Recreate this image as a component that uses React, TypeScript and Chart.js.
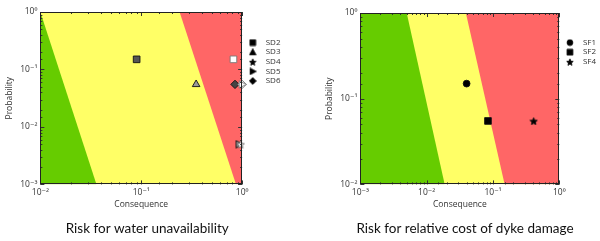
import React, { useEffect, useRef } from 'react';
import { Chart, registerables } from 'chart.js';

Chart.register(...registerables);

// ---------- Left chart: risk for water unavailability ----------
const leftTitle = 'Risk for water unavailability';
const leftSeries = ['SD2', 'SD3', 'SD4', 'SD5', 'SD6'];
const leftShapes = ['rect', 'triangle', 'star', 'rightTriangle', 'rectRot'];
const sd2Consequence = [0.09, 0.82];
const sd2Probability = [0.15, 0.15];
const sd2Fill = ['#555555', '#ffffff'];
const sd3Consequence = [0.35];
const sd3Probability = [0.055];
const sd3Fill = ['#9a9a9a'];
const sd4Consequence = [0.97];
const sd4Probability = [0.005];
const sd4Fill = ['#ffffff'];
const sd5Consequence = [0.93, 1.0];
const sd5Probability = [0.005, 0.055];
const sd5Fill = ['#8a8a8a', '#ffffff'];
const sd6Consequence = [0.85, 1.0];
const sd6Probability = [0.055, 0.055];
const sd6Fill = ['#444444', '#ffffff'];
const leftXRange = [0.01, 1];
const leftYRange = [0.001, 1];
const leftGreenConsequence = [0.01, 0.036];
const leftGreenProbability = [1, 0.001];
const leftRedConsequence = [0.24, 0.87, 1];
const leftRedProbability = [1, 0.001, 0.001];

// ---------- Right chart: risk for relative cost of dyke damage ----------
const rightTitle = 'Risk for relative cost of dyke damage';
const rightSeries = ['SF1', 'SF2', 'SF4'];
const rightShapes = ['circle', 'rect', 'star'];
const sf1Consequence = [0.04];
const sf1Probability = [0.15];
const sf2Consequence = [0.084];
const sf2Probability = [0.055];
const sf4Consequence = [0.41];
const sf4Probability = [0.055];
const rightXRange = [0.001, 1];
const rightYRange = [0.01, 1];
const rightGreenConsequence = [0.001, 0.005, 0.0187];
const rightGreenProbability = [1, 1, 0.01];
const rightRedConsequence = [0.039, 0.15, 1];
const rightRedProbability = [1, 0.01, 0.01];

const axisXTitle = 'Consequence';
const axisYTitle = 'Probability';

const YELLOW = '#ffff66';
const GREEN = '#66cc00';
const RED = '#ff6666';
const TEXT = '#333333';
const FONT = "'Open Sans', 'DejaVu Sans', sans-serif";

const SHAPE_RADIUS: Record<string, number> = { circle: 3.4, rect: 4.7, triangle: 4.4, rectRot: 4.2 };

const SUP: Record<string, string> = { '0': '\u2070', '1': '\u00b9', '2': '\u00b2', '3': '\u00b3', '-': '\u207b' };

function powLabel(v: number): string {
  const e = Math.log10(v);
  const r = Math.round(e);
  if (Math.abs(e - r) > 1e-6) return '';
  return '10' + String(r).split('').map((c) => SUP[c] || c).join('');
}

function makeMarker(shape: string, fill: string, stroke: string, size: number): HTMLCanvasElement {
  const c = document.createElement('canvas');
  c.width = size;
  c.height = size;
  const ctx = c.getContext('2d') as CanvasRenderingContext2D;
  const cx = size / 2;
  const cy = size / 2;
  const R = size / 2 - 0.6;
  ctx.beginPath();
  if (shape === 'star') {
    const r = R * 0.45;
    for (let i = 0; i < 10; i++) {
      const a = -Math.PI / 2 + (i * Math.PI) / 5;
      const rad = i % 2 ? r : R;
      ctx.lineTo(cx + rad * Math.cos(a), cy + 0.6 + rad * Math.sin(a));
    }
  } else if (shape === 'rect') {
    const s = R * 0.85;
    ctx.rect(cx - s, cy - s, 2 * s, 2 * s);
  } else if (shape === 'triangle') {
    ctx.moveTo(cx, cy - R);
    ctx.lineTo(cx + R * 0.95, cy + R * 0.75);
    ctx.lineTo(cx - R * 0.95, cy + R * 0.75);
  } else if (shape === 'rightTriangle') {
    ctx.moveTo(cx + R, cy);
    ctx.lineTo(cx - R * 0.75, cy - R * 0.95);
    ctx.lineTo(cx - R * 0.75, cy + R * 0.95);
  } else if (shape === 'rectRot') {
    ctx.moveTo(cx, cy - R);
    ctx.lineTo(cx + R, cy);
    ctx.lineTo(cx, cy + R);
    ctx.lineTo(cx - R, cy);
  } else {
    ctx.arc(cx, cy, R * 0.85, 0, Math.PI * 2);
  }
  ctx.closePath();
  ctx.fillStyle = fill;
  ctx.fill();
  ctx.strokeStyle = stroke;
  ctx.lineWidth = 0.9;
  ctx.stroke();
  return c;
}

const frameTicks = {
  id: 'frameTicks',
  beforeDatasetsDraw(chart: any) {
    const { ctx, chartArea } = chart;
    const { left, right, top, bottom } = chartArea;
    const xs = chart.scales.x;
    const ys = chart.scales.y;
    ctx.save();
    ctx.strokeStyle = '#333333';
    ctx.lineWidth = 1;
    const isMajor = (v: number) => Math.abs(Math.log10(v) - Math.round(Math.log10(v))) < 1e-6;
    // fills are drawn per dataset; ticks/frame are drawn afterwards in afterDatasetsDraw
    ctx.restore();
  },
  afterDatasetsDraw(chart: any) {
    const { ctx, chartArea } = chart;
    const { left, right, top, bottom } = chartArea;
    const xs = chart.scales.x;
    const ys = chart.scales.y;
    ctx.save();
    ctx.strokeStyle = '#333333';
    ctx.lineWidth = 1;
    const isMajor = (v: number) => Math.abs(Math.log10(v) - Math.round(Math.log10(v))) < 1e-6;
    ctx.beginPath();
    xs.ticks.forEach((t: any) => {
      const px = Math.round(xs.getPixelForValue(t.value)) + 0.5;
      const len = isMajor(t.value) ? 4 : 2;
      ctx.moveTo(px, bottom);
      ctx.lineTo(px, bottom - len);
      ctx.moveTo(px, top);
      ctx.lineTo(px, top + len);
    });
    ys.ticks.forEach((t: any) => {
      const py = Math.round(ys.getPixelForValue(t.value)) + 0.5;
      const len = isMajor(t.value) ? 4 : 2;
      ctx.moveTo(left, py);
      ctx.lineTo(left + len, py);
      ctx.moveTo(right, py);
      ctx.lineTo(right - len, py);
    });
    ctx.stroke();
    ctx.strokeStyle = '#222222';
    ctx.strokeRect(Math.round(left) + 0.5, Math.round(top) + 0.5, Math.round(right - left) - 1, Math.round(bottom - top) - 1);
    ctx.restore();
  },
};

type PointSeries = { label: string; shape: string; xs: number[]; ys: number[]; fills: string[] };

function zip(xs: number[], ys: number[]) {
  return xs.map((x, i) => ({ x, y: ys[i] }));
}

function buildConfig(p: {
  title: string;
  series: PointSeries[];
  xRange: number[];
  yRange: number[];
  green: { xs: number[]; ys: number[] };
  red: { xs: number[]; ys: number[] };
  padding: { left: number; right: number; top: number; bottom: number };
  legendOffset: number;
}) {
  const pointDatasets = p.series.map((s) => {
    const edge = s.fills.map((f) => (f === '#ffffff' ? '#777777' : '#111111'));
    const styles = s.fills.map((f, i) => {
      if (s.shape === 'star' || s.shape === 'rightTriangle') {
        return makeMarker(s.shape, f, edge[i], 9);
      }
      return s.shape;
    });
    const r = SHAPE_RADIUS[s.shape] || 4;
    return {
      type: 'scatter',
      label: s.label,
      data: zip(s.xs, s.ys),
      pointStyle: styles,
      backgroundColor: s.fills,
      borderColor: edge,
      borderWidth: 0.9,
      pointRadius: r,
      pointHoverRadius: r,
      clip: false,
    };
  });
  const legendMarkers = p.series.map((s) => makeMarker(s.shape, '#000000', '#000000', 8));
  const datasets: any[] = [
    ...pointDatasets,
    {
      type: 'line',
      label: '',
      data: zip(p.red.xs, p.red.ys),
      borderWidth: 0,
      pointRadius: 0,
      fill: 'end',
      backgroundColor: RED,
      borderColor: 'rgba(0,0,0,0)',
    },
    {
      type: 'line',
      label: '',
      data: zip(p.green.xs, p.green.ys),
      borderWidth: 0,
      pointRadius: 0,
      fill: 'start',
      backgroundColor: GREEN,
      borderColor: 'rgba(0,0,0,0)',
    },
    {
      type: 'line',
      label: '',
      data: zip(p.xRange, [p.yRange[1], p.yRange[1]]),
      borderWidth: 0,
      pointRadius: 0,
      fill: 'start',
      backgroundColor: YELLOW,
      borderColor: 'rgba(0,0,0,0)',
    },
  ];
  return {
    type: 'scatter',
    data: { datasets },
    options: {
      responsive: false,
      animation: false,
      devicePixelRatio: 1,
      layout: { padding: p.padding },
      scales: {
        x: {
          type: 'logarithmic',
          min: p.xRange[0],
          max: p.xRange[1],
          grid: { display: false, drawTicks: false },
          border: { display: false },
          ticks: {
            autoSkip: false,
            maxRotation: 0,
            padding: 3,
            color: TEXT,
            font: { family: FONT, size: 8.5 },
            callback: (v: any) => powLabel(Number(v)),
          },
          title: { display: true, text: axisXTitle, color: TEXT, font: { family: FONT, size: 8.5 }, padding: { top: -1, bottom: 0 } },
        },
        y: {
          type: 'logarithmic',
          min: p.yRange[0],
          max: p.yRange[1],
          grid: { display: false, drawTicks: false },
          border: { display: false },
          ticks: {
            autoSkip: false,
            padding: 3,
            color: TEXT,
            font: { family: FONT, size: 8.5 },
            callback: (v: any) => powLabel(Number(v)),
          },
          title: { display: true, text: axisYTitle, color: TEXT, font: { family: FONT, size: 8.5 }, padding: { top: 0, bottom: 3 } },
        },
      },
      plugins: {
        tooltip: { enabled: false },
        title: {
          display: true,
          position: 'bottom',
          text: p.title,
          color: '#111111',
          font: { family: "Lato, 'Open Sans', sans-serif", size: 13.5, weight: 'normal' },
          padding: { top: 11, bottom: 2 },
        },
        legend: {
          display: true,
          position: 'right',
          align: 'start',
          title: { display: true, text: ' ', font: { size: 10, lineHeight: 1 }, padding: { top: p.legendOffset, bottom: 0 } },
          labels: {
            usePointStyle: true,
            pointStyleWidth: 18,
            boxHeight: 8,
            padding: 1.6,
            color: TEXT,
            font: { family: FONT, size: 8 },
            generateLabels: () =>
              p.series.map((s, i) => ({
                text: s.label,
                datasetIndex: i,
                pointStyle: legendMarkers[i],
                fillStyle: '#000000',
                strokeStyle: '#000000',
                lineWidth: 0,
                hidden: false,
                fontColor: TEXT,
              })),
          },
        },
      },
    },
    plugins: [frameTicks],
  };
}

function ChartCanvas({ config, left }: { config: () => any; left: number }) {
  const ref = useRef<HTMLCanvasElement | null>(null);
  useEffect(() => {
    if (!ref.current) return;
    const chart = new Chart(ref.current, config() as any);
    return () => chart.destroy();
  }, []);
  return (
    <div style={{ position: 'absolute', left, top: 0, width: 300, height: 241 }}>
      <canvas ref={ref} width={300} height={241} style={{ display: 'block', width: 300, height: 241 }} />
    </div>
  );
}

export default function App() {
  const leftConfig = () =>
    buildConfig({
      title: leftTitle,
      series: [
        { label: leftSeries[0], shape: leftShapes[0], xs: sd2Consequence, ys: sd2Probability, fills: sd2Fill },
        { label: leftSeries[1], shape: leftShapes[1], xs: sd3Consequence, ys: sd3Probability, fills: sd3Fill },
        { label: leftSeries[2], shape: leftShapes[2], xs: sd4Consequence, ys: sd4Probability, fills: sd4Fill },
        { label: leftSeries[3], shape: leftShapes[3], xs: sd5Consequence, ys: sd5Probability, fills: sd5Fill },
        { label: leftSeries[4], shape: leftShapes[4], xs: sd6Consequence, ys: sd6Probability, fills: sd6Fill },
      ],
      xRange: leftXRange,
      yRange: leftYRange,
      green: { xs: leftGreenConsequence, ys: leftGreenProbability },
      red: { xs: leftRedConsequence, ys: leftRedProbability },
      padding: { left: 4, right: 9.5, top: 12, bottom: 2 },
      legendOffset: 15,
    });
  const rightConfig = () =>
    buildConfig({
      title: rightTitle,
      series: [
        { label: rightSeries[0], shape: rightShapes[0], xs: sf1Consequence, ys: sf1Probability, fills: ['#000000'] },
        { label: rightSeries[1], shape: rightShapes[1], xs: sf2Consequence, ys: sf2Probability, fills: ['#000000'] },
        { label: rightSeries[2], shape: rightShapes[2], xs: sf4Consequence, ys: sf4Probability, fills: ['#000000'] },
      ],
      xRange: rightXRange,
      yRange: rightYRange,
      green: { xs: rightGreenConsequence, ys: rightGreenProbability },
      red: { xs: rightRedConsequence, ys: rightRedProbability },
      padding: { left: 24, right: -6, top: 13, bottom: 2 },
      legendOffset: 14,
    });
  return (
    <div style={{ position: 'absolute', left: 0, top: 0, width: 600, height: 241, background: '#ffffff' }}>
      <ChartCanvas config={leftConfig} left={0} />
      <ChartCanvas config={rightConfig} left={300} />
    </div>
  );
}
